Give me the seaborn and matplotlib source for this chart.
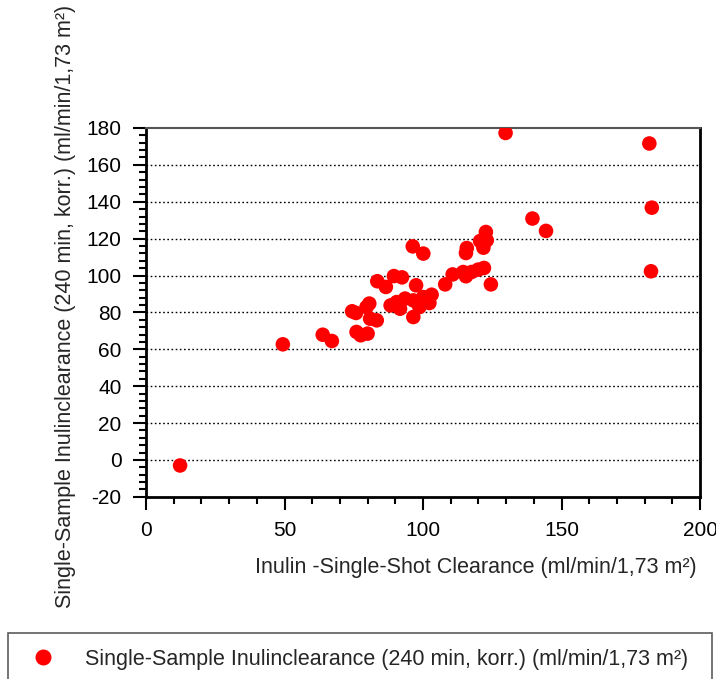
import numpy as np
import pandas as pd
import matplotlib
matplotlib.use("Agg")
import matplotlib.pyplot as plt
from matplotlib.ticker import MultipleLocator
from matplotlib.lines import Line2D
import seaborn as sns

# Inulin single-shot clearance (x) vs. single-sample inulin clearance at 240 min (y)
single_shot = [
    12.3, 49.4, 63.8, 67.1, 74.4, 75.8, 76.0, 77.5, 80.0, 79.6,
    80.6, 80.9, 83.3, 83.5, 86.6, 89.5, 92.4, 88.3, 90.5, 91.7,
    93.5, 96.3, 100.1, 97.5, 96.5, 96.5, 98.7, 100.1, 102.3, 103.1,
    108.0, 110.7, 114.5, 115.5, 117.5, 119.9, 122.0, 124.5, 115.5, 115.8,
    120.6, 121.8, 123.0, 122.7, 129.8, 139.5, 144.4, 181.7, 182.6, 182.3,
]
single_sample = [
    -3.0, 62.7, 67.9, 64.5, 80.6, 79.7, 69.4, 67.6, 68.5, 82.9,
    84.8, 76.6, 75.7, 96.9, 93.8, 99.7, 99.0, 83.8, 85.6, 82.0,
    87.5, 115.8, 111.9, 94.7, 77.5, 86.5, 82.9, 88.3, 85.1, 89.6,
    95.2, 100.6, 101.9, 99.6, 101.9, 103.2, 104.1, 95.2, 112.2, 114.9,
    118.7, 115.1, 119.1, 123.6, 177.3, 130.9, 124.2, 171.6, 136.8, 102.3,
]

x_label = "Inulin -Single-Shot Clearance (ml/min/1,73 m²)"
y_label = "Single-Sample Inulinclearance (240 min, korr.) (ml/min/1,73 m²)"
series_name = "Single-Sample Inulinclearance (240 min, korr.) (ml/min/1,73 m²)"

df = pd.DataFrame({"x": single_shot, "y": single_sample})

sns.set_style("white")
plt.rcParams["font.family"] = ["Liberation Sans", "DejaVu Sans"]
plt.rcParams["axes.unicode_minus"] = False

fig = plt.figure(figsize=(7.16, 6.79), dpi=100)
ax = fig.add_axes([0.2039, 0.2683, 0.7738, 0.5432])

red = "#ff0000"
sns.scatterplot(data=df, x="x", y="y", ax=ax, color=red, s=110,
                edgecolor="none", linewidth=0, legend=False, zorder=3)

ax.set_xlim(0, 200)
ax.set_ylim(-20, 180)
ax.xaxis.set_major_locator(MultipleLocator(50))
ax.xaxis.set_minor_locator(MultipleLocator(10))
ax.yaxis.set_major_locator(MultipleLocator(20))
ax.yaxis.set_minor_locator(MultipleLocator(4))

# dotted horizontal grid at the major y ticks
for v in range(0, 180, 20):
    ax.axhline(v, color="black", linestyle=(0, (1.2, 1.8)), linewidth=1.0, zorder=1)

ax.tick_params(axis="both", which="major", direction="out", length=9.5, width=1.5,
               labelsize=15, color="black", labelcolor="black", pad=8)
ax.tick_params(axis="both", which="minor", direction="out", length=5, width=1.5,
               color="black")
ax.tick_params(top=False, right=False, which="both")
ax.tick_params(axis="x", which="both", bottom=True)
ax.tick_params(axis="y", which="both", left=True)

for side in ["left", "bottom", "right"]:
    ax.spines[side].set_color("black")
    ax.spines[side].set_linewidth(2.0)
ax.spines["top"].set_color("#555555")
ax.spines["top"].set_linewidth(1.5)

ax.set_xlabel(x_label, fontsize=15.5, ha="right", va="top")
ax.xaxis.set_label_coords(0.9946, -0.163)
ax.set_ylabel(y_label, fontsize=15.5, va="center", ha="center")
ax.yaxis.set_label_coords(-0.146, 0.515)

handle = Line2D([], [], linestyle="none", marker="o", markersize=10.5,
                markerfacecolor=red, markeredgecolor=red)
leg = fig.legend([handle], [series_name], loc="upper left",
                 bbox_to_anchor=(0.011, -0.05, 0.983, 0.1177), mode="expand",
                 fontsize=15.5, frameon=True, fancybox=False, borderaxespad=0,
                 handletextpad=1.05, borderpad=0.72, handlelength=1.8)
leg.get_frame().set_edgecolor("#333333")
leg.get_frame().set_linewidth(1.2)

fig.savefig("out.png", dpi=100)
